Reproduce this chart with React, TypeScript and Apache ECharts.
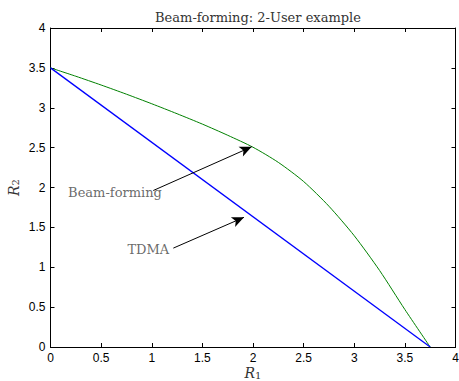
import React, { useEffect, useRef } from "react";
import * as echarts from "echarts";

// Rate region boundaries
const beamR1 = [0, 0.25, 0.5, 0.75, 1.0, 1.25, 1.5, 1.75, 2.0, 2.25, 2.5, 2.75, 3.0, 3.25, 3.5, 3.75];
const beamR2 = [3.5, 3.395, 3.285, 3.17, 3.05, 2.925, 2.795, 2.655, 2.505, 2.315, 2.075, 1.765, 1.395, 0.96, 0.47, 0];
const tdmaR1 = [0, 3.75];
const tdmaR2 = [3.5, 0];

// Annotations: label anchor, arrow start and arrow tip (data units)
const annotLabels = ["Beam-forming", "TDMA"];
const annotTextPos = [
  [0.637, 1.935],
  [0.966, 1.225],
];
const annotArrowFrom = [
  [1.015, 1.962],
  [1.213, 1.24],
];
const annotArrowTo = [
  [1.987, 2.51],
  [1.911, 1.626],
];

const ticks = [0, 0.5, 1, 1.5, 2, 2.5, 3, 3.5, 4];

export default function App() {
  const ref = useRef<HTMLDivElement>(null);

  useEffect(() => {
    if (!ref.current) return;
    const chart = echarts.init(ref.current, null, { renderer: "svg" });
    const serif = "'DejaVu Serif', serif";
    const sans = "'Liberation Sans', Arial, sans-serif";

    const baseAxis = {
      min: ticks[0],
      max: ticks[ticks.length - 1],
      interval: 0.5,
      splitLine: { show: false },
      axisLine: { show: true, onZero: false, lineStyle: { color: "#000", width: 1 } },
      axisTick: { show: true, inside: true, length: 4, lineStyle: { color: "#000" } },
    };

    const nameStyle = {
      rich: {
        i: { fontFamily: serif, fontStyle: "italic", fontSize: 14, lineHeight: 14, color: "#333" },
        s: { fontFamily: serif, fontSize: 10, lineHeight: 14, verticalAlign: "bottom", color: "#333" },
      },
    };

    chart.setOption({
      animation: false,
      backgroundColor: "#fff",
      title: {
        text: "Beam-forming: 2-User example",
        left: 253,
        textAlign: "center",
        top: 6,
        textStyle: { fontFamily: serif, fontSize: 13, fontWeight: "normal", color: "#333" },
      },
      grid: { left: 50.5, top: 28, right: 3.5, bottom: 34, containLabel: false, outerBoundsMode: "none" },
      xAxis: [
        {
          ...baseAxis,
          type: "value",
          position: "bottom",
          name: "{i|R}{s|1}",
          nameLocation: "middle",
          nameGap: 19,
          nameMoveOverlap: false,
          nameTextStyle: nameStyle,
          axisLabel: { color: "#000", fontFamily: sans, fontSize: 12, lineHeight: 12, margin: 5 },
        },
        {
          ...baseAxis,
          type: "value",
          position: "top",
          axisLabel: { show: false },
        },
      ],
      yAxis: [
        {
          ...baseAxis,
          type: "value",
          position: "left",
          name: "{i|R}{s|2}",
          nameLocation: "middle",
          nameRotate: 90,
          nameGap: 30,
          nameMoveOverlap: false,
          nameTextStyle: nameStyle,
          axisLabel: { color: "#000", fontFamily: sans, fontSize: 12, margin: 5 },
        },
        {
          ...baseAxis,
          type: "value",
          position: "right",
          axisLabel: { show: false },
        },
      ],
      series: [
        {
          name: "TDMA",
          type: "line",
          data: tdmaR1.map((x, i) => [x, tdmaR2[i]]),
          showSymbol: false,
          lineStyle: { color: "#0000ff", width: 1.3 },
          z: 3,
        },
        {
          name: "Beam-forming",
          type: "line",
          data: beamR1.map((x, i) => [x, beamR2[i]]),
          showSymbol: false,
          smooth: 0.25,
          lineStyle: { color: "#008000", width: 1 },
          z: 2,
        },
        {
          name: "annotations",
          type: "scatter",
          data: annotTextPos.map((p, i) => ({ value: p, label: { formatter: annotLabels[i] } })),
          symbolSize: 0,
          silent: true,
          label: {
            show: true,
            position: "inside",
            fontFamily: serif,
            fontSize: 13,
            color: "#444",
          },
          markLine: {
            silent: true,
            symbol: ["none", "arrow"],
            symbolSize: [8, 12],
            label: { show: false },
            lineStyle: { color: "#000", width: 1, type: "solid" },
            data: annotArrowFrom.map((p, i) => [{ coord: p }, { coord: annotArrowTo[i] }]),
          },
          z: 5,
        },
      ],
    });
    return () => chart.dispose();
  }, []);

  return (
    <div
      ref={ref}
      style={{ position: "fixed", left: 0, top: 0, width: 459, height: 381, background: "#fff" }}
    />
  );
}
